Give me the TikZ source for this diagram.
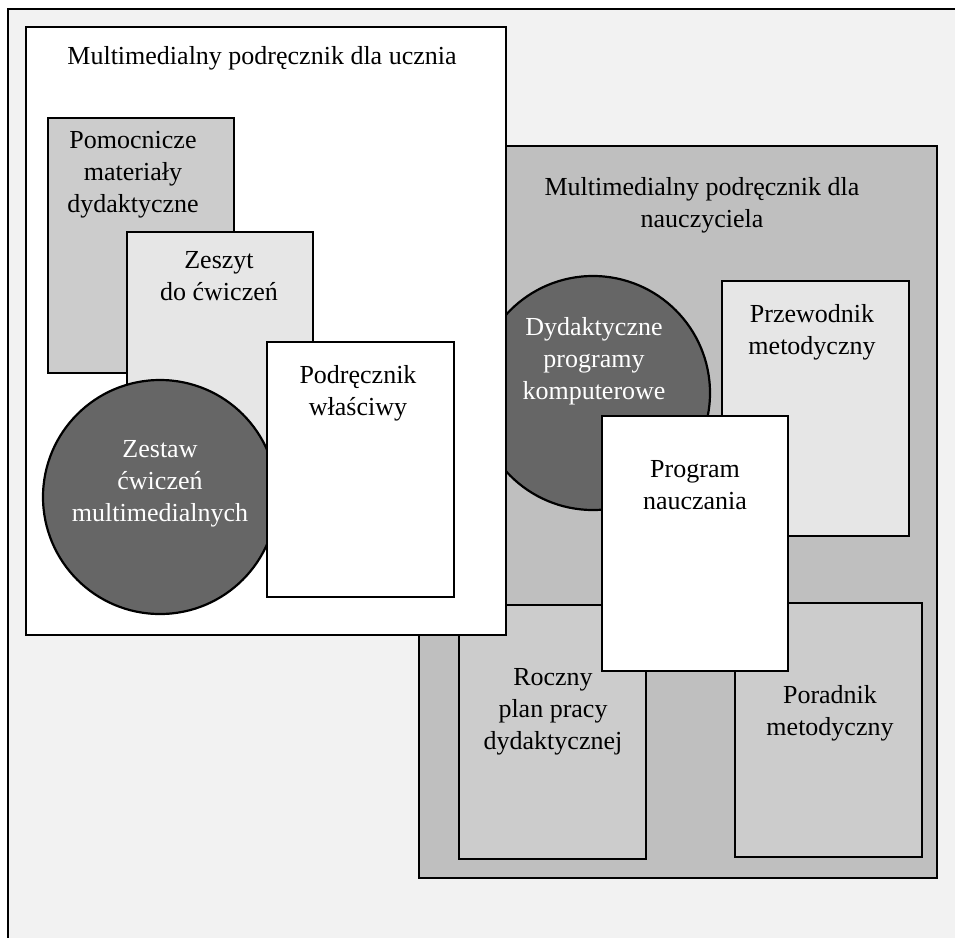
\documentclass[tikz,border=0pt]{standalone}
\usepackage{fontspec}
\setmainfont{Liberation Serif}
\definecolor{pagegray}{HTML}{F2F2F2}
\definecolor{midgray}{HTML}{BFBFBF}
\definecolor{lightgray}{HTML}{CCCCCC}
\definecolor{palegray}{HTML}{E6E6E6}
\definecolor{discgray}{HTML}{666666}
\begin{document}
\begin{tikzpicture}[x=1pt,y=-1pt,
  panel/.style={draw=black, line width=2.4pt, inner sep=0pt, anchor=north west},
  card/.style={panel, minimum width=187pt, minimum height=255pt},
  disc/.style={circle, draw=black, line width=2.2pt, fill=discgray, inner sep=0pt, minimum size=234pt},
  caption/.style={font=\fontsize{26}{32}\selectfont, align=center, inner sep=0pt, anchor=north, yshift=22.4pt},
]
\useasboundingbox (0,0) rectangle (955,937);
\clip (0,0) rectangle (955,937);

% page background and outer frame
\fill[pagegray] (8,9) rectangle (980,960);
\coordinate (frameBL) at (8,960);
\coordinate (frameTL) at (8,9);
\coordinate (frameTR) at (980,9);
\draw[line width=2.2pt] (frameBL) -- (frameTL) -- (frameTR);

% teacher's handbook
\node[panel, fill=midgray, minimum width=518pt, minimum height=732pt] (teacher) at (418,145) {};
\node[caption] (teacherT) at (702,195) {\strut Multimedialny podręcznik dla\\nauczyciela};

\node[disc] (programs) at (593,393) {};
\node[caption, text=white] (programsT) at (594,335) {\strut Dydaktyczne\\programy\\komputerowe};

\node[card, fill=palegray] (guide) at (721,280) {};
\node[caption] (guideT) at (812,322) {\strut Przewodnik\\metodyczny};

\node[card, fill=lightgray, minimum height=254pt] (plan) at (458,604) {};
\node[caption] (planT) at (553,685) {\strut Roczny\\plan pracy\\dydaktycznej};

\node[card, fill=lightgray, minimum height=254pt] (advisor) at (734,602) {};
\node[caption] (advisorT) at (830,703) {\strut Poradnik\\metodyczny};

\node[card, fill=white, minimum width=186pt] (curriculum) at (601,415) {};
\node[caption] (curriculumT) at (695,477) {\strut Program\\nauczania};

% student's handbook
\node[panel, fill=white, minimum width=480pt, minimum height=608pt] (student) at (25,26) {};
\node[caption] (studentT) at (262,64) {\strut Multimedialny podręcznik dla ucznia};

\node[card, fill=lightgray, minimum width=186pt] (aids) at (47,117) {};
\node[caption] (aidsT) at (133,148) {\strut Pomocnicze\\materiały\\dydaktyczne};

\node[card, fill=palegray, minimum width=186pt] (workbook) at (126,231) {};
\node[caption] (workbookT) at (219,268) {\strut Zeszyt\\do ćwiczeń};

\node[disc] (exercises) at (160,497) {};
\node[caption, text=white] (exercisesT) at (160,457) {\strut Zestaw\\ćwiczeń\\multimedialnych};

\node[card, fill=white] (textbook) at (266,341) {};
\node[caption] (textbookT) at (358,383) {\strut Podręcznik\\właściwy};
\end{tikzpicture}
\end{document}
